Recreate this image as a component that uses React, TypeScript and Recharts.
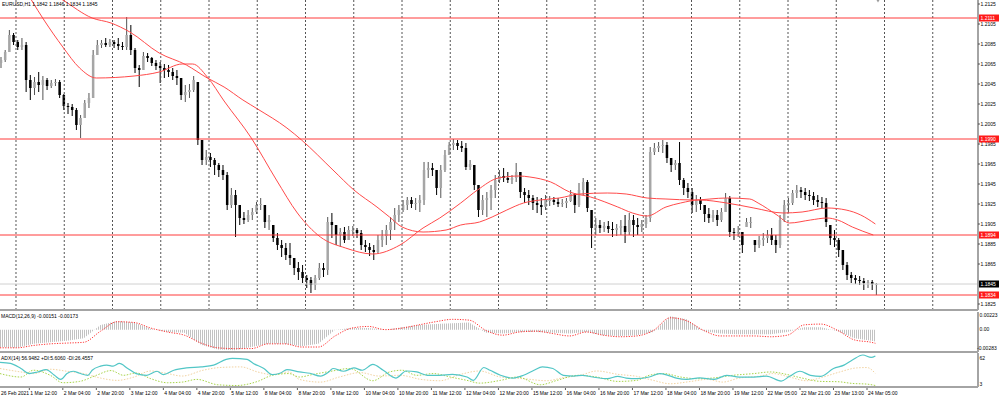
import React from 'react';
import { ComposedChart, Bar, Line, Area, XAxis, YAxis, ReferenceLine } from 'recharts';

const FONT = '"Liberation Sans", Arial, sans-serif';
const AXIS_GRAY = '#a4a4a4';
const LEVEL_RED = '#ff3b3b';
const MA_RED = '#ff4a4a';
const BAR_DOMAIN: [number, number] = [0, 467];

// EURUSD H1, one entry per two hourly bars
const firstOpen = 1.2066;
const candleHigh = [
  1.2072, 1.2079, 1.2099, 1.2096, 1.2089, 1.2091, 1.2087, 1.2054, 1.2052, 1.2057,
  1.2053, 1.2051, 1.2049, 1.2050, 1.2049, 1.2035, 1.2026, 1.2025, 1.2021, 1.2014,
  1.2029, 1.2036, 1.2079, 1.2089, 1.2089, 1.2091, 1.2090, 1.2089, 1.2091, 1.2087,
  1.2112, 1.2104, 1.2081, 1.2064, 1.2077, 1.2076, 1.2072, 1.2069, 1.2067, 1.2065,
  1.2064, 1.2061, 1.2059, 1.2051, 1.2044, 1.2045, 1.2053, 1.2047, 1.1989, 1.1979,
  1.1976, 1.1971, 1.1966, 1.1964, 1.1957, 1.1941, 1.1939, 1.1924, 1.1917, 1.1919,
  1.1921, 1.1927, 1.1931, 1.1924, 1.1914, 1.1904, 1.1896, 1.1889, 1.1886, 1.1886,
  1.1871, 1.1867, 1.1864, 1.1854, 1.1852, 1.1854, 1.1866, 1.1866, 1.1912, 1.1916,
  1.1904, 1.1901, 1.1902, 1.1903, 1.1903, 1.1901, 1.1899, 1.1889, 1.1886, 1.1884,
  1.1894, 1.1899, 1.1904, 1.1912, 1.1921, 1.1924, 1.1929, 1.1932, 1.1932, 1.1931,
  1.1934, 1.1967, 1.1967, 1.1966, 1.1959, 1.1964, 1.1979, 1.1987, 1.1990, 1.1989,
  1.1988, 1.1986, 1.1969, 1.1964, 1.1944, 1.1934, 1.1937, 1.1944, 1.1954, 1.1959,
  1.1961, 1.1957, 1.1954, 1.1966, 1.1957, 1.1941, 1.1939, 1.1934, 1.1932, 1.1931,
  1.1934, 1.1933, 1.1932, 1.1931, 1.1930, 1.1931, 1.1939, 1.1936, 1.1946, 1.1951,
  1.1949, 1.1919, 1.1911, 1.1909, 1.1907, 1.1908, 1.1907, 1.1905, 1.1909, 1.1914,
  1.1916, 1.1914, 1.1911, 1.1909, 1.1914, 1.1982, 1.1986, 1.1987, 1.1989, 1.1987,
  1.1971, 1.1969, 1.1987, 1.1951, 1.1946, 1.1941, 1.1934, 1.1932, 1.1924, 1.1921,
  1.1919, 1.1919, 1.1921, 1.1936, 1.1933, 1.1901, 1.1903, 1.1897, 1.1911, 1.1912,
  1.1889, 1.1893, 1.1896, 1.1899, 1.1901, 1.1894, 1.1914, 1.1929, 1.1931, 1.1939,
  1.1944, 1.1942, 1.1941, 1.1939, 1.1937, 1.1934, 1.1932, 1.1931, 1.1904, 1.1899,
  1.1891, 1.1879, 1.1867, 1.1857, 1.1854, 1.1853, 1.1851, 1.1849, 1.1849, 1.1846,
];
const candleLow = [
  1.2061, 1.2067, 1.2077, 1.2084, 1.2079, 1.2079, 1.2037, 1.2029, 1.2034, 1.2037,
  1.2029, 1.2039, 1.2041, 1.2043, 1.2031, 1.2019, 1.2015, 1.2013, 1.1999, 1.1991,
  1.2011, 1.2021, 1.2031, 1.2074, 1.2081, 1.2082, 1.2082, 1.2081, 1.2079, 1.2079,
  1.2079, 1.2074, 1.2056, 1.2042, 1.2059, 1.2067, 1.2063, 1.2059, 1.2046, 1.2051,
  1.2052, 1.2049, 1.2044, 1.2029, 1.2027, 1.2031, 1.2037, 1.1984, 1.1964, 1.1964,
  1.1962, 1.1954, 1.1952, 1.1949, 1.1919, 1.1921, 1.1892, 1.1904, 1.1905, 1.1907,
  1.1909, 1.1915, 1.1919, 1.1901, 1.1899, 1.1887, 1.1879, 1.1872, 1.1869, 1.1864,
  1.1854, 1.1849, 1.1846, 1.1841, 1.1836, 1.1839, 1.1849, 1.1852, 1.1854, 1.1891,
  1.1884, 1.1882, 1.1886, 1.1889, 1.1893, 1.1891, 1.1879, 1.1877, 1.1873, 1.1869,
  1.1876, 1.1882, 1.1884, 1.1889, 1.1899, 1.1907, 1.1917, 1.1919, 1.1921, 1.1919,
  1.1917, 1.1924, 1.1951, 1.1953, 1.1934, 1.1931, 1.1957, 1.1974, 1.1979, 1.1979,
  1.1977, 1.1959, 1.1959, 1.1939, 1.1912, 1.1914, 1.1912, 1.1919, 1.1931, 1.1946,
  1.1947, 1.1946, 1.1945, 1.1947, 1.1931, 1.1926, 1.1924, 1.1919, 1.1916, 1.1914,
  1.1919, 1.1923, 1.1924, 1.1922, 1.1922, 1.1921, 1.1927, 1.1916, 1.1922, 1.1934,
  1.1917, 1.1881, 1.1894, 1.1896, 1.1897, 1.1896, 1.1892, 1.1893, 1.1894, 1.1886,
  1.1894, 1.1892, 1.1894, 1.1897, 1.1901, 1.1907, 1.1974, 1.1977, 1.1976, 1.1966,
  1.1957, 1.1959, 1.1944, 1.1934, 1.1931, 1.1916, 1.1917, 1.1919, 1.1907, 1.1906,
  1.1907, 1.1903, 1.1907, 1.1917, 1.1892, 1.1889, 1.1892, 1.1876, 1.1902, 1.1901,
  1.1877, 1.1881, 1.1883, 1.1886, 1.1884, 1.1876, 1.1881, 1.1907, 1.1916, 1.1924,
  1.1931, 1.1931, 1.1929, 1.1928, 1.1924, 1.1922, 1.1921, 1.1902, 1.1884, 1.1882,
  1.1872, 1.1859, 1.1849, 1.1846, 1.1845, 1.1844, 1.1839, 1.1841, 1.1839, 1.1834,
];
const candleClose = [
  1.2069, 1.2077, 1.2094, 1.2087, 1.2082, 1.2084, 1.2049, 1.2041, 1.2047, 1.2044,
  1.2049, 1.2043, 1.2046, 1.2047, 1.2034, 1.2023, 1.2022, 1.2019, 1.2004, 1.2011,
  1.2026, 1.2031, 1.2074, 1.2084, 1.2086, 1.2084, 1.2087, 1.2085, 1.2083, 1.2082,
  1.2094, 1.2079, 1.2061, 1.2059, 1.2073, 1.2071, 1.2066, 1.2063, 1.2061, 1.2059,
  1.2057, 1.2053, 1.2051, 1.2034, 1.2037, 1.2039, 1.2049, 1.1989, 1.1969, 1.1972,
  1.1969, 1.1964, 1.1959, 1.1954, 1.1924, 1.1934, 1.1924, 1.1911, 1.1909, 1.1914,
  1.1917, 1.1924, 1.1925, 1.1907, 1.1909, 1.1891, 1.1884, 1.1881, 1.1874, 1.1871,
  1.1861, 1.1857, 1.1851, 1.1849, 1.1844, 1.1851, 1.1861, 1.1859, 1.1907, 1.1904,
  1.1894, 1.1897, 1.1889, 1.1899, 1.1899, 1.1896, 1.1884, 1.1882, 1.1879, 1.1877,
  1.1889, 1.1893, 1.1899, 1.1907, 1.1914, 1.1919, 1.1924, 1.1929, 1.1925, 1.1926,
  1.1929, 1.1959, 1.1961, 1.1959, 1.1941, 1.1959, 1.1974, 1.1984, 1.1986, 1.1983,
  1.1981, 1.1962, 1.1965, 1.1944, 1.1919, 1.1929, 1.1931, 1.1939, 1.1949, 1.1953,
  1.1951, 1.1949, 1.1951, 1.1957, 1.1937, 1.1934, 1.1931, 1.1926, 1.1924, 1.1922,
  1.1929, 1.1929, 1.1927, 1.1925, 1.1926, 1.1928, 1.1935, 1.1924, 1.1939, 1.1947,
  1.1921, 1.1901, 1.1904, 1.1901, 1.1903, 1.1900, 1.1899, 1.1901, 1.1903, 1.1897,
  1.1909, 1.1904, 1.1902, 1.1905, 1.1911, 1.1977, 1.1981, 1.1983, 1.1984, 1.1971,
  1.1964, 1.1966, 1.1949, 1.1941, 1.1937, 1.1924, 1.1929, 1.1925, 1.1915, 1.1911,
  1.1914, 1.1909, 1.1917, 1.1931, 1.1897, 1.1896, 1.1897, 1.1884, 1.1907, 1.1907,
  1.1884, 1.1889, 1.1891, 1.1894, 1.1889, 1.1884, 1.1909, 1.1924, 1.1926, 1.1936,
  1.1939, 1.1937, 1.1934, 1.1933, 1.1929, 1.1927, 1.1926, 1.1907, 1.1891, 1.1889,
  1.1879, 1.1864, 1.1854, 1.1851, 1.1849, 1.1848, 1.1846, 1.1847, 1.1845, 1.1845,
];

// two moving averages (bar index -> price)
const maFastBars = [0, 15, 21, 30, 38, 46, 64, 76, 87, 92, 99, 107, 120, 132, 142, 153, 165, 178, 191, 202, 210, 220, 228, 238, 248, 253, 263, 272, 282, 295, 302, 309, 318, 325, 334, 347, 360, 374, 383, 395, 404, 411, 418];
const maFastVals = [1.2187, 1.2129, 1.2109, 1.2082, 1.2061, 1.2051, 1.2053, 1.2057, 1.2065, 1.2065, 1.2052, 1.2028, 1.1991, 1.1949, 1.1916, 1.1892, 1.1881, 1.1875, 1.1884, 1.1901, 1.1911, 1.1926, 1.1939, 1.1951, 1.1953, 1.1952, 1.1947, 1.1937, 1.1932, 1.1922, 1.1916, 1.1913, 1.1922, 1.1926, 1.1929, 1.1926, 1.1921, 1.1916, 1.1917, 1.1921, 1.1919, 1.1914, 1.1905];
const maSlowBars = [0, 30, 44, 53, 62, 76, 89, 99, 107, 116, 123, 137, 144, 159, 169, 180, 186, 192, 202, 213, 220, 229, 235, 242, 250, 258, 267, 277, 290, 299, 309, 318, 331, 347, 358, 362, 371, 377, 387, 395, 400, 407, 417];
const maSlowVals = [1.2167, 1.2129, 1.2111, 1.2106, 1.2097, 1.2076, 1.2064, 1.2051, 1.2042, 1.2029, 1.2020, 1.2001, 1.1989, 1.1959, 1.1939, 1.1922, 1.1912, 1.1902, 1.1897, 1.1899, 1.1904, 1.1907, 1.1912, 1.1919, 1.1926, 1.1929, 1.1931, 1.1935, 1.1936, 1.1935, 1.1931, 1.1930, 1.1929, 1.1931, 1.1930, 1.1926, 1.1914, 1.1906, 1.1909, 1.1911, 1.1909, 1.1902, 1.1894];

const levelPrices = [1.2111, 1.1990, 1.1894, 1.1834];
const bidPrice = 1.1845;
const priceTicks = [1.2125, 1.2105, 1.2085, 1.2065, 1.2045, 1.2025, 1.2005, 1.1985, 1.1965, 1.1945, 1.1925, 1.1905, 1.1885, 1.1865, 1.1825];

// MACD(12,26,9)
const macdBars = [0, 8, 16, 24, 32, 40, 48, 56, 64, 72, 80, 88, 96, 104, 112, 120, 128, 136, 144, 152, 160, 168, 176, 184, 192, 200, 208, 216, 224, 232, 240, 248, 256, 264, 272, 280, 288, 296, 304, 312, 320, 328, 336, 344, 352, 360, 368, 376, 384, 392, 400, 408, 416, 418];
const macdMain = [-0.0022, -0.0023, -0.0018, -0.0016, -0.0014, -0.0011, 0.0006, 0.0011, 0.0009, 0.0001, -0.0003, -0.0004, -0.0019, -0.0025, -0.0026, -0.0022, -0.0018, -0.0018, -0.0021, -0.0018, 0.0000, 0.0002, 0.0002, 0.0000, 0.0003, 0.0006, 0.0007, 0.0008, 0.0009, -0.0004, -0.0005, -0.0003, -0.0003, -0.0004, -0.0005, -0.0003, -0.0007, -0.0008, -0.0007, -0.0003, 0.0017, 0.0013, -0.0002, -0.0005, -0.0006, -0.0006, -0.0006, -0.0003, 0.0003, 0.0003, -0.0002, -0.0011, -0.0014, -0.00151];
const macdSignal = [-0.0023, -0.0023, -0.0020, -0.0018, -0.0017, -0.0016, -0.0002, 0.0010, 0.0009, 0.0002, -0.0003, -0.0007, -0.0017, -0.0023, -0.0024, -0.0024, -0.0018, -0.0018, -0.0022, -0.0022, -0.0008, 0.0002, 0.0004, 0.0000, 0.0002, 0.0006, 0.0010, 0.0013, 0.0012, -0.0001, -0.0007, -0.0003, -0.0002, -0.0005, -0.0008, -0.0003, -0.0007, -0.0009, -0.0008, -0.0001, 0.0015, 0.0011, -0.0001, -0.0008, -0.0008, -0.0008, -0.0009, -0.0007, 0.0006, 0.0007, -0.0001, -0.0013, -0.0016, -0.00173];
const macdTicks = [0.00223, 0, -0.00283];

// ADX(14)
const adxBars = [0, 5, 10, 14, 18, 22, 26, 29, 32, 35, 38, 42, 44, 48, 51, 54, 57, 61, 65, 70, 75, 78, 83, 89, 96, 102, 108, 111, 118, 121, 126, 130, 134, 137, 143, 148, 153, 157, 159, 164, 169, 173, 178, 183, 189, 194, 199, 204, 210, 216, 223, 226, 231, 234, 239, 245, 250, 255, 259, 264, 269, 274, 278, 283, 290, 295, 299, 304, 310, 315, 319, 323, 328, 334, 341, 347, 353, 360, 366, 373, 377, 382, 387, 392, 398, 403, 407, 412, 416, 418];
const adxVals = [45.6, 43.9, 35.1, 26.3, 29.1, 33.3, 23.3, 16.2, 26.3, 30.3, 26.8, 23.3, 32.1, 39.1, 40.9, 39.1, 43.9, 35.1, 26.3, 23.3, 30.3, 24.5, 32.1, 36.1, 37.9, 40.9, 50.9, 52.7, 50.9, 43.9, 35.1, 24.5, 27.3, 33.3, 29.1, 26.8, 22, 29.1, 35.1, 30.3, 36.1, 32.1, 42.1, 32.1, 18.5, 30.8, 29.1, 23.3, 23.3, 25, 20.3, 14.5, 36.8, 32.1, 23.3, 18.5, 23.3, 32.1, 37.9, 35.1, 23.3, 22, 23.3, 20.3, 17.4, 21.5, 18.5, 17.4, 20.3, 26.3, 23.3, 18.5, 16.2, 18.9, 16.2, 23.3, 20.3, 20.3, 22, 13.2, 21.5, 30.3, 23.3, 21.5, 35.1, 40.9, 49.7, 58.5, 54.4, 56.95];
const plusDiBars = [0, 10, 16, 24, 30, 38, 46, 53, 59, 65, 72, 80, 87, 94, 104, 113, 123, 130, 138, 143, 149, 158, 167, 178, 186, 192, 199, 207, 215, 223, 229, 239, 247, 258, 266, 276, 285, 295, 304, 310, 317, 325, 333, 340, 350, 360, 368, 376, 383, 392, 400, 407, 414, 418];
const plusDiVals = [26.3, 20.3, 32.1, 23.3, 10.4, 12.7, 23.3, 31.5, 23.3, 27.3, 17.4, 10.4, 11.5, 16.2, 6.9, 5.6, 12.7, 23.3, 26.3, 20.3, 24.5, 30.3, 35.1, 13.9, 29.1, 32.1, 23.3, 26.3, 20.3, 14.5, 9.7, 14.5, 20.3, 6.9, 14.5, 23.3, 20.3, 12.7, 14.5, 23.3, 26.3, 20.3, 17.4, 18.5, 23.3, 26.3, 29.1, 24.5, 18.5, 12.7, 12.2, 9.2, 8, 5.606];
const minusDiBars = [0, 10, 16, 24, 32, 40, 48, 56, 64, 72, 80, 87, 97, 105, 115, 123, 130, 138, 143, 153, 162, 172, 181, 191, 201, 210, 220, 229, 239, 250, 261, 269, 277, 285, 295, 304, 312, 320, 330, 338, 345, 353, 363, 369, 377, 385, 393, 401, 409, 414, 418];
const minusDiVals = [35.1, 29.1, 26.3, 33.8, 30.3, 26.3, 18.5, 14.5, 20.3, 30.8, 26.3, 22, 32.1, 36.8, 37.9, 29.1, 24.5, 29.1, 16.2, 11.5, 20.3, 28, 22, 23.3, 16.2, 13.9, 25, 30.8, 20.3, 17.4, 13.9, 19.2, 23.3, 30.8, 25, 21.5, 14.5, 8.6, 12.7, 16.2, 11.5, 18.5, 22, 26.3, 20.3, 13.9, 20.3, 29.1, 36.1, 36.8, 26.46];
const adxTicks = [62, 3];

// time axis
const timeBars = [-2, 14, 30, 46, 62, 78, 94, 110, 126, 142, 158, 174, 190, 206, 222, 238, 254, 270, 286, 302, 318, 334, 350, 366, 382, 398, 414];
const timeLabels = ['26 Feb 2021', '1 Mar 12:00', '2 Mar 04:00', '2 Mar 20:00', '3 Mar 12:00', '4 Mar 04:00', '4 Mar 20:00', '5 Mar 12:00', '8 Mar 04:00', '8 Mar 20:00', '9 Mar 12:00', '10 Mar 04:00', '10 Mar 20:00', '11 Mar 12:00', '12 Mar 04:00', '12 Mar 20:00', '15 Mar 12:00', '16 Mar 04:00', '16 Mar 20:00', '17 Mar 12:00', '18 Mar 04:00', '18 Mar 20:00', '19 Mar 12:00', '22 Mar 05:00', '22 Mar 21:00', '23 Mar 13:00', '24 Mar 05:00'];

const candles = candleHigh.map((high, i) => ({
  bar: 2 * i + 0.5,
  high,
  low: candleLow[i],
  close: candleClose[i],
  open: i === 0 ? firstOpen : candleClose[i - 1],
}));
const toSeries = (bars: number[], vals: number[]) => bars.map((bar, i) => ({ bar, v: vals[i] }));
const macdRows = macdBars.map((bar, i) => ({ bar, main: macdMain[i], signal: macdSignal[i] }));

// MT4 draws its vertical grid every ~23 bars
const gridBars = Array.from({ length: 20 }, (_, k) => 7.64 + 23.04 * k);
const NO_MARGIN = { top: 0, right: 0, bottom: 0, left: 0 };

const Candle = (props: any) => {
  const { x, y, width, height, payload } = props;
  const top = Math.min(y, y + height);
  const h = Math.abs(height);
  const { open, close, high, low } = payload;
  const k = high === low ? 0 : h / (high - low);
  const o = Math.min(Math.max(open, low), high);
  const bTop = top + (high - Math.max(o, close)) * k;
  const bBot = top + (high - Math.min(o, close)) * k;
  const bull = close >= o;
  const cx = x + width / 2;
  return (
    <g>
      <rect x={cx - 0.5} y={top} width={1} height={Math.max(h, 1)} fill={bull ? '#555' : '#000'} />
      <rect x={cx - 1.25} y={bTop} width={2.5} height={Math.max(bBot - bTop, 1)} fill={bull ? '#a6a6a6' : '#000'} />
    </g>
  );
};

const PriceTick = ({ x, y, payload }: any) => {
  const v = payload.value;
  const label = v.toFixed(4);
  if (levelPrices.includes(v) || v === bidPrice) {
    const fill = v === bidPrice ? '#000' : '#ff1a1a';
    return (
      <g>
        <rect x={x + 1} y={y - 3.5} width={20} height={7} fill={fill} />
        <text x={x + 2.5} y={y + 1.8} fontSize={5} fontFamily={FONT} fill="#fff">{label}</text>
      </g>
    );
  }
  return (
    <g>
      <line x1={x} x2={x + 2} y1={y} y2={y} stroke="#333" strokeWidth={0.8} />
      <text x={x + 2.5} y={y + 1.8} fontSize={5} fontFamily={FONT} fill="#000">{label}</text>
    </g>
  );
};

const MacdTick = ({ x, y, payload }: any) => {
  const v = payload.value;
  const dy = v > 0 ? 3.5 : v < 0 ? -3.5 : 0;
  const label = v === 0 ? '0.00' : v.toFixed(5);
  return (
    <text x={v < 0 ? x - 1 : x + 1.5} y={y + dy + 1.8} fontSize={5} fontFamily={FONT} fill="#000">{label}</text>
  );
};

const AdxTick = ({ x, y, payload }: any) => {
  const v = payload.value;
  const dy = v === 62 ? 5 : -3;
  return (
    <text x={x + 1.5} y={y + dy + 1.8} fontSize={5} fontFamily={FONT} fill="#000">{v}</text>
  );
};

const TimeTick = ({ x, y, payload }: any) => {
  const i = timeBars.indexOf(payload.value);
  return (
    <g>
      <line x1={x} x2={x} y1={y + 1} y2={y + 3} stroke="#333" strokeWidth={0.8} />
      <text x={Math.max(x + 1, 1)} y={y + 8} fontSize={5} fontFamily={FONT} fill="#000">{timeLabels[i]}</text>
    </g>
  );
};

const axisLine = { stroke: AXIS_GRAY, strokeWidth: 2 };

export default function App() {
  return (
    <div style={{ position: 'absolute', left: 0, top: 0, width: 1000, height: 399, background: '#fff', overflow: 'hidden' }}>
      <div style={{ position: 'absolute', left: 0, top: 0 }}>
        <ComposedChart width={1000} height={311} data={candles} margin={NO_MARGIN}>
          <XAxis dataKey="bar" type="number" domain={BAR_DOMAIN} allowDataOverflow height={1} tick={false} tickLine={false} axisLine={axisLine} />
          <YAxis
            orientation="right" type="number" domain={[1.1819, 1.2129]} allowDataOverflow width={22}
            ticks={[...priceTicks, ...levelPrices, bidPrice]} interval={0}
            tick={<PriceTick />} tickLine={false} tickSize={0} tickMargin={0} axisLine={axisLine}
          />
          {gridBars.map((g) => (
            <ReferenceLine key={g} x={g} stroke="#555" strokeDasharray="2 2" strokeWidth={1} />
          ))}
          <ReferenceLine y={bidPrice} stroke="#d0d0d0" />
          <Bar dataKey={(d: any) => [d.low, d.high]} shape={<Candle />} barSize={3} isAnimationActive={false} />
          <Line data={toSeries(maSlowBars, maSlowVals)} dataKey="v" type="monotone" stroke={MA_RED} strokeWidth={1} dot={false} isAnimationActive={false} />
          <Line data={toSeries(maFastBars, maFastVals)} dataKey="v" type="monotone" stroke={MA_RED} strokeWidth={1} dot={false} isAnimationActive={false} />
          {levelPrices.map((p) => (
            <ReferenceLine key={p} y={p} stroke={LEVEL_RED} strokeWidth={1} />
          ))}
        </ComposedChart>
      </div>

      <div style={{ position: 'absolute', left: 0, top: 312 }}>
        <ComposedChart width={1000} height={41} data={macdRows} margin={NO_MARGIN}>
          <defs>
            <pattern id="macdHatch" x="0" y="0" width="2" height="2" patternUnits="userSpaceOnUse">
              <rect x="0" y="0" width="1" height="2" fill="#c2c2c2" />
            </pattern>
          </defs>
          <XAxis dataKey="bar" type="number" domain={BAR_DOMAIN} allowDataOverflow height={1} tick={false} tickLine={false} axisLine={axisLine} />
          <YAxis
            orientation="right" type="number" domain={[-0.00283, 0.00223]} allowDataOverflow width={22}
            ticks={macdTicks} interval={0} tick={<MacdTick />} tickLine={false} tickSize={0} tickMargin={0} axisLine={axisLine}
          />
          <Area dataKey="main" type="linear" baseValue={0} fill="url(#macdHatch)" fillOpacity={1} stroke="none" isAnimationActive={false} />
          <Line dataKey="signal" type="monotone" stroke="#ff3030" strokeWidth={1} strokeDasharray="1.2 1.4" dot={false} isAnimationActive={false} />
        </ComposedChart>
      </div>

      <div style={{ position: 'absolute', left: 0, top: 353 }}>
        <ComposedChart width={1000} height={46} margin={NO_MARGIN}>
          <XAxis
            dataKey="bar" type="number" domain={BAR_DOMAIN} allowDataOverflow height={12}
            ticks={timeBars} interval={0} tick={<TimeTick />} tickLine={false} tickSize={0} tickMargin={0} axisLine={axisLine}
          />
          <YAxis
            orientation="right" type="number" domain={[3, 62]} allowDataOverflow width={22}
            ticks={adxTicks} interval={0} tick={<AdxTick />} tickLine={false} tickSize={0} tickMargin={0} axisLine={axisLine}
          />
          <Line data={toSeries(minusDiBars, minusDiVals)} dataKey="v" type="monotone" stroke="#f2d3a2" strokeWidth={1} strokeDasharray="1.5 1.5" dot={false} isAnimationActive={false} />
          <Line data={toSeries(plusDiBars, plusDiVals)} dataKey="v" type="monotone" stroke="#a8d44a" strokeWidth={1} strokeDasharray="1.5 1.5" dot={false} isAnimationActive={false} />
          <Line data={toSeries(adxBars, adxVals)} dataKey="v" type="monotone" stroke="#52c6c6" strokeWidth={1.2} dot={false} isAnimationActive={false} />
        </ComposedChart>
      </div>

      <svg width={1000} height={399} style={{ position: 'absolute', left: 0, top: 0, pointerEvents: 'none' }}>
        <text x={2} y={6.2} fontSize={5} fontFamily={FONT} fill="#000">EURUSD,H1  1.1842 1.1846 1.1834 1.1845</text>
        <text x={1} y={318} fontSize={5} fontFamily={FONT} fill="#000">MACD(12,26,9) -0.00151 -0.00173</text>
        <text x={1} y={360} fontSize={5} fontFamily={FONT} fill="#000">ADX(14) 56.9482 +DI:5.6060 -DI:26.4557</text>
        <path d="M876.5 0 L879.5 0 L878 2.5 Z" fill="#9a9a9a" />
      </svg>
    </div>
  );
}
